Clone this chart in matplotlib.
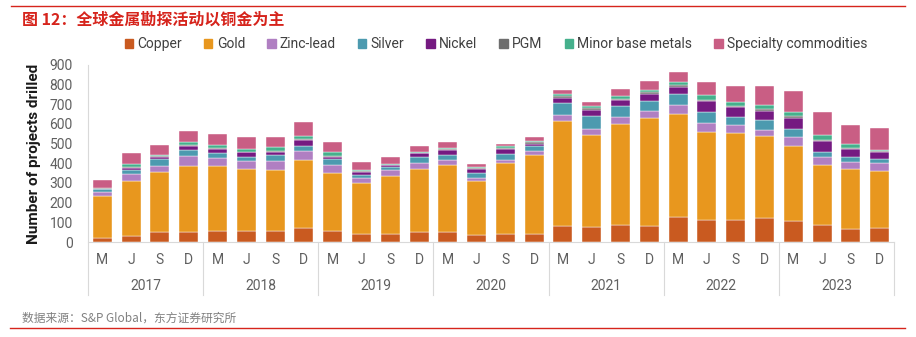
import numpy as np
import matplotlib
matplotlib.use("Agg")
import matplotlib.pyplot as plt
from matplotlib.patches import Patch
from matplotlib.lines import Line2D
from matplotlib.transforms import blended_transform_factory

plt.rcParams['font.family'] = ['Roboto', 'Noto Sans CJK SC', 'DejaVu Sans']

# ---- data ----
years = ['2017', '2018', '2019', '2020', '2021', '2022', '2023']
months = ['M', 'J', 'S', 'D']

copper    = [20, 32, 51, 51, 58, 58, 54, 71, 54, 42, 42, 49, 49, 37, 39, 42,
             83, 76, 86, 80, 125, 110, 110, 122, 105, 85, 64, 69]
gold      = [213, 276, 306, 335, 328, 313, 311, 344, 295, 259, 293, 322, 340, 273, 365, 398,
             533, 469, 513, 553, 526, 450, 445, 416, 382, 304, 305, 293]
zinc_lead = [22, 39, 30, 51, 40, 42, 45, 47, 42, 24, 30, 32, 27, 13, 12, 25,
             30, 30, 37, 34, 44, 46, 41, 34, 49, 41, 39, 41]
silver    = [12, 20, 36, 33, 24, 20, 33, 27, 29, 17, 16, 30, 27, 26, 32, 24,
             61, 65, 53, 52, 58, 54, 39, 46, 39, 30, 25, 18]
nickel    = [5, 10, 10, 17, 24, 24, 17, 30, 11, 13, 8, 17, 24, 23, 24, 10,
             27, 32, 33, 36, 37, 57, 50, 50, 58, 54, 41, 36]
pgm       = [2, 5, 5, 5, 6, 3, 4, 5, 4, 5, 4, 5, 7, 4, 7, 9,
             7, 8, 7, 6, 9, 5, 7, 9, 7, 7, 6, 5]
minor     = [3, 14, 4, 14, 14, 14, 18, 17, 22, 7, 6, 4, 3, 5, 7, 8,
             9, 10, 12, 11, 13, 23, 22, 20, 23, 22, 19, 8]
specialty = [36, 56, 52, 56, 54, 61, 53, 68, 49, 41, 34, 30, 29, 18, 13, 19,
             22, 24, 37, 47, 53, 71, 80, 95, 107, 117, 98, 109]

series = [
    ('Copper', copper, '#C95A20'),
    ('Gold', gold, '#E8971E'),
    ('Zinc-lead', zinc_lead, '#B07FC2'),
    ('Silver', silver, '#4C9AAF'),
    ('Nickel', nickel, '#751A81'),
    ('PGM', pgm, '#6E6E6E'),
    ('Minor base metals', minor, '#45B08C'),
    ('Specialty commodities', specialty, '#C95E84'),
]

fig = plt.figure(figsize=(9.16, 3.37), dpi=100)
ax = fig.add_axes([88/916, (337-242)/337, (894-88)/916, 177/337])

x = np.arange(len(copper))
bottom = np.zeros(len(x))
for name, vals, col in series:
    ax.bar(x, vals, width=0.66, bottom=bottom, color=col, label=name,
           edgecolor='white', linewidth=0.3)
    bottom += np.array(vals)

ax.set_xlim(-0.5, len(x) - 0.5)
ax.set_ylim(0, 900)
ax.set_yticks(range(0, 901, 100))
ax.tick_params(axis='y', length=0, labelsize=10, labelcolor='#606060', pad=11)
ax.set_xticks(x)
ax.set_xticklabels(months * len(years))
ax.tick_params(axis='x', length=0, labelsize=10, labelcolor='#606060', pad=8)
for s in ['top', 'right', 'left']:
    ax.spines[s].set_visible(False)
ax.spines['bottom'].set_color('#D9D9D9')
ax.set_ylabel('Number of projects drilled', fontsize=11, fontweight='bold',
              color='#1a1a1a', labelpad=6)

# year labels and group separators
tr = blended_transform_factory(ax.transData, ax.transAxes)
for i, yr in enumerate(years):
    ax.text(i*4 + 1.5, -0.25, yr, transform=tr, ha='center', va='center',
            fontsize=10, color='#606060')
for k in range(len(years) + 1):
    xs = k*4 - 0.5
    top = 1.0 if k == 0 else 0.0
    ax.add_line(Line2D([xs, xs], [-0.30, top], transform=tr, color='#D9D9D9',
                       lw=0.8, clip_on=False))

handles = [Patch(color=c) for _, _, c in series]
labels = [n for n, _, _ in series]
fig.legend(handles, labels, loc='center', bbox_to_anchor=(0.5415, 1 - 44/337),
           ncol=8, frameon=False, fontsize=10, handlelength=0.6, handleheight=0.6,
           handletextpad=0.3, columnspacing=1.6, labelcolor='#404040')

# title, source, red rules
fig.text(22/916, 1 - 20/337, '图 12：全球金属勘探活动以铜金为主', fontsize=11.5,
         fontweight='bold', color='#D6241C', va='center', ha='left',
         family=['Noto Sans CJK SC', 'DejaVu Sans'])
fig.text(22/916, 1 - 318/337, '数据来源：S&P Global，东方证券研究所', fontsize=8.5,
         color='#808080', va='center', ha='left',
         family=['Noto Sans CJK SC', 'DejaVu Sans'])
fig.add_artist(Line2D([11/916, 905/916], [1 - 6/337, 1 - 6/337], color='#D6241C', lw=1.0))
fig.add_artist(Line2D([10/916, 905/916], [1 - 328/337, 1 - 328/337], color='#D6241C', lw=1.0))

fig.savefig('out.png', dpi=100)
